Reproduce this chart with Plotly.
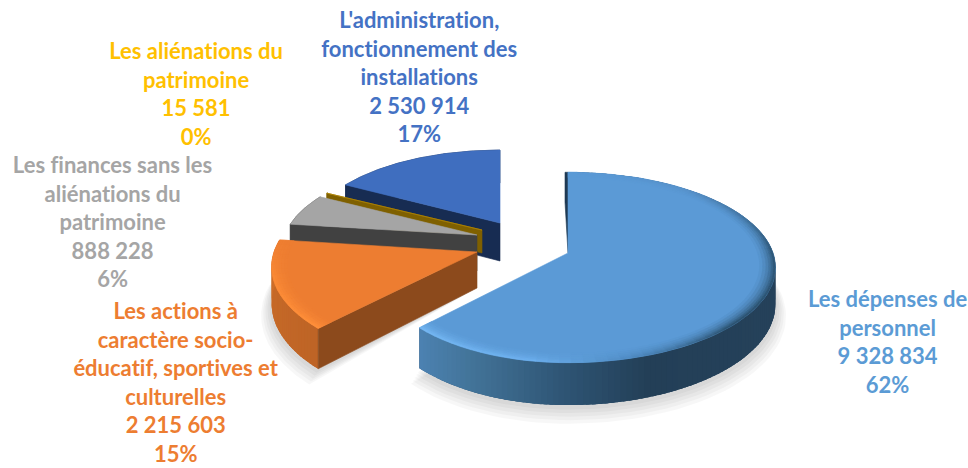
import math
import plotly.graph_objects as go

categories = ["Les dépenses de personnel",
              "Les actions à caractère socio-éducatif, sportives et culturelles",
              "Les finances sans les aliénations du patrimoine",
              "Les aliénations du patrimoine",
              "L'administration, fonctionnement des installations"]
values = [9328834, 2215603, 888228, 15581, 2530914]
wrapped_labels = [["Les dépenses de", "personnel"],
                  ["Les actions à", "caractère socio-", "éducatif, sportives et", "culturelles"],
                  ["Les finances sans les", "aliénations du", "patrimoine"],
                  ["Les aliénations du", "patrimoine"],
                  ["L'administration,", "fonctionnement des", "installations"]]
label_colors = ["#5B9BD5", "#ED7D31", "#A5A5A5", "#FFC000", "#4472C4"]
label_pos = [(887, 341.5), (176, 382), (112, 221), (196, 93), (419, 76)]

K = 0.152
# centre x, centre y, R right, R left, B, wall height
geom = [(568, 253, 205, 190, 93, 36),
        (477, 252, 203, 203, 95, 36),
        (477, 235, 192, 192, 85, 36),
        (482, 230, 190, 190, 82, 23),
        (500, 223, 190, 190, 84, 38)]
top_col = ["#5B9AD6", "#ED7D31", "#A5A5A5", "#B38600", "#3F6EBF"]
face_col = ["#1F3A54", "#8C4A1C", "#414141", "#7F6000", "#172C52"]

total = sum(values)
angles = []
a = 0.0
for v in values:
    angles.append((a, a + 360.0 * v / total))
    a += 360.0 * v / total


def proj(i, th, r=1.0, z=0.0):
    cx, cy, rr, rl, b, h = geom[i]
    t = math.radians(th)
    u, v = r * math.sin(t), -r * math.cos(t)
    s = 1 / (1 - K * v)
    return (cx + (rr if u > 0 else rl) * u * s, cy + b * v * s + z * h * s)


def hexrgb(c):
    return tuple(int(c[j:j + 2], 16) for j in (1, 3, 5))


def mix(c1, c2, f):
    a1, a2 = hexrgb(c1), hexrgb(c2)
    return "#%02x%02x%02x" % tuple(round(p + (q - p) * f) for p, q in zip(a1, a2))


def ramp(table, t):
    if t <= table[0][0]:
        return table[0][1]
    for (t0, c0), (t1, c1) in zip(table, table[1:]):
        if t <= t1:
            return mix(c0, c1, (t - t0) / (t1 - t0))
    return table[-1][1]


fig = go.Figure()


def poly(pts, color, line=0.6):
    xs = [p[0] for p in pts] + [pts[0][0]]
    ys = [p[1] for p in pts] + [pts[0][1]]
    fig.add_trace(go.Scatter(x=xs, y=ys, mode="lines", fill="toself", fillcolor=color,
                             line=dict(color=color, width=line), hoverinfo="skip",
                             showlegend=False))


def arc(i, a0, a1, r=1.0, z=0.0, n=80):
    return [proj(i, a0 + (a1 - a0) * j / n, r, z) for j in range(n + 1)]


# soft shadows
for i in (0, 1, 4):
    a0, a1 = angles[i]
    for e in (1.05, 1.04, 1.03, 1.02, 1.01):
        dz = 1 + (e - 1) * 5
        pts = arc(i, a0, a1, e, dz)
        pts = [(p[0], p[1] + 1) for p in pts] + [proj(i, 0, 0, 1.0)]
        poly(pts, "rgba(0,0,0,0.03)", line=0)

main_wall = [(0, "#4C82B2"), (0.15, "#437499"), (0.4, "#2F5676"), (0.65, "#233F57"), (1, "#25415A")]
orange_wall = [(0, "#BE6426"), (0.6, "#C76A28"), (1, "#D57229")]
main_rim = [(0, "#5B9AD6"), (40, "#5791C9"), (90, "#2F5878"), (135, "#2C5270"),
            (165, "#4F8BC2"), (190, "#6DB0EE"), (224.3, "#74B6F2")]
orange_rim = [(224, "#FF8F3A"), (255, "#FA8A36"), (277.6, "#ED7D31")]

for i in (4, 3, 2, 1, 0):
    a0, a1 = angles[i]
    if i in (0, 1):
        # painted from the far end inwards, so each strip overlaps the previous one
        poly(arc(i, a0, a1) + arc(i, a1, a0, 1, 1), ramp(main_wall, 0.5) if i == 0 else orange_wall[1][1], line=0)
        n = int((a1 - a0) / 1.5) + 1
        for j in range(n):
            t0 = a0 + (a1 - a0) * j / n
            t1 = a0 + (a1 - a0) * (j + 1.6) / n if j < n - 1 else a1
            p0, p1 = proj(i, t0), proj(i, t1)
            if i == 0:
                col = ramp(main_wall, (p0[0] - 420) / 355)
            else:
                col = ramp(orange_wall, (t0 - a0) / (a1 - a0))
            poly([p0, p1, proj(i, t1, 1, 1), proj(i, t0, 1, 1)], col, line=0)
    else:
        poly(arc(i, a0, a1) + arc(i, a1, a0, 1, 1), face_col[i])
    if i != 0:
        poly([proj(i, a0, 0), proj(i, a0), proj(i, a0, 1, 1), proj(i, a0, 0, 1)], face_col[i])
    else:
        ax, ay = proj(0, a0, 0)
        tx, ty = proj(0, a0)
        poly([(tx - 3, ty), (tx - 3, ty + 30), (ax, ay), (ax + 3, ay), (tx, ty)], face_col[0])
    poly([proj(i, a0, 0)] + arc(i, a0, a1), top_col[i])
    if i in (0, 1):
        radii = [0.925, 0.94, 0.955, 0.968, 0.98, 0.99, 1.0]
        n = int((a1 - a0) / 3) + 1
        for k in range(len(radii) - 1):
            f = ((k + 1) / (len(radii) - 1)) ** 1.4
            for j in range(n):
                t0 = a0 + (a1 - a0) * j / n
                t1 = a0 + (a1 - a0) * (j + 1) / n
                edge = ramp(main_rim if i == 0 else orange_rim, (t0 + t1) / 2)
                poly([proj(i, t0, radii[k]), proj(i, t1, radii[k]),
                      proj(i, t1, radii[k + 1]), proj(i, t0, radii[k + 1])],
                     mix(top_col[i], edge, f), line=0.5)

fmt = lambda v: f"{v:,}".replace(",", " ")
annotations = []
for i in range(len(values)):
    lines = wrapped_labels[i] + [fmt(values[i]), f"{round(100 * values[i] / total)}%"]
    annotations.append(dict(x=label_pos[i][0], y=label_pos[i][1], xref="x", yref="y",
                            text="<br>".join(lines), showarrow=False, align="center",
                            xanchor="center", yanchor="middle",
                            font=dict(family="Lato", size=22, color=label_colors[i], weight="bold")))

fig.update_layout(width=968, height=468, margin=dict(l=0, r=0, t=0, b=0),
                  paper_bgcolor="white", plot_bgcolor="white", showlegend=False,
                  annotations=annotations,
                  xaxis=dict(range=[0, 968], visible=False, fixedrange=True),
                  yaxis=dict(range=[468, 0], visible=False, fixedrange=True))
post = ("document.body.style.margin='0';document.body.style.overflow='hidden';"
        "var s=document.createElement('style');"
        "s.textContent='svg text{font-variant-ligatures:none !important;font-feature-settings:\"liga\" 0 !important;}';"
        "document.head.appendChild(s);")
fig.write_html("out.html", config=dict(displayModeBar=False), post_script=post)
